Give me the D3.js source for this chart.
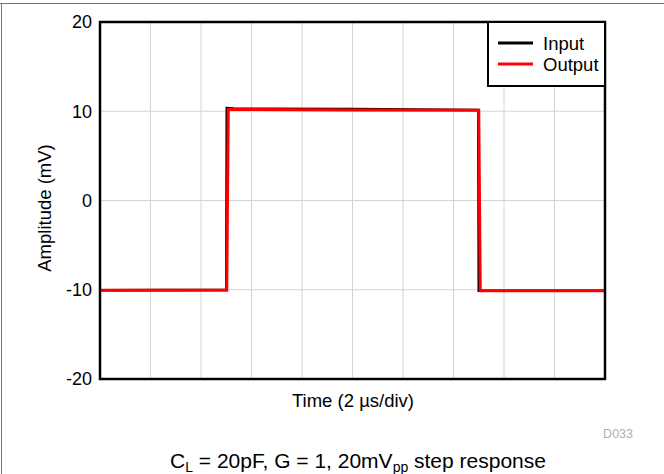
<!DOCTYPE html>
<html>
<head>
<meta charset="utf-8">
<script src="https://cdn.jsdelivr.net/npm/d3@7"></script>
<style>
  body { margin: 0; background: #fff; }
  svg { display: block; font-family: "Liberation Sans", Arial, sans-serif; }
</style>
</head>
<body>
<svg id="chart" width="664" height="474"></svg>
<script>
// time in microseconds (2 us/div, 10 div)
var inputTime  = [0, 5.0, 5.02, 5.3, 10, 14.98, 15.0, 20];
var inputVal   = [-10.05, -10.0, 10.35, 10.3, 10.25, 10.15, -10.1, -10.1];
var outputTime = [0, 5.02, 5.08, 5.3, 10, 15.0, 15.06, 15.3, 20];
var outputVal  = [-10.05, -10.05, 10.2, 10.2, 10.15, 10.1, -10.1, -10.1, -10.1];
var yTicks = [20, 10, 0, -10, -20];
var seriesNames = ['Input', 'Output'];
var seriesColors = ['#000000', '#ff0000'];

var svg = d3.select('#chart');
var margin = {left: 100, top: 22, right: 605, bottom: 379};

var x = d3.scaleLinear().domain([0, 20]).range([margin.left, margin.right]);
var y = d3.scaleLinear().domain([-20, 20]).range([margin.bottom, margin.top]);

// page border (top/left)
svg.append('line').attr('x1', 0).attr('x2', 664).attr('y1', 3.5).attr('y2', 3.5)
  .attr('stroke', '#777').attr('stroke-width', 1);
svg.append('line').attr('x1', 1.5).attr('x2', 1.5).attr('y1', 3).attr('y2', 474)
  .attr('stroke', '#777').attr('stroke-width', 1);

// grid
var grid = svg.append('g');
grid.selectAll('.vg').data(d3.range(2, 20, 2)).enter().append('line')
  .attr('x1', function(d){ return x(d); }).attr('x2', function(d){ return x(d); })
  .attr('y1', margin.top).attr('y2', margin.bottom)
  .attr('stroke', '#d4d4d4').attr('stroke-width', 1);
grid.selectAll('.hg').data(yTicks.slice(1, -1)).enter().append('line')
  .attr('x1', margin.left).attr('x2', margin.right)
  .attr('y1', function(d){ return y(d); }).attr('y2', function(d){ return y(d); })
  .attr('stroke', '#d4d4d4').attr('stroke-width', 1);

// y tick labels
var yAxis = d3.axisLeft(y).tickValues(yTicks).tickSize(0).tickPadding(8)
  .tickFormat(function(d){ return String(d); });
var ya = svg.append('g').attr('transform', 'translate(' + margin.left + ',0)').call(yAxis);
ya.select('.domain').remove();
ya.selectAll('text').attr('font-size', 18).attr('fill', '#000')
  .style('font-family', '"Liberation Sans", Arial, sans-serif');

// traces
var line = d3.line()
  .x(function(d){ return x(d[0]); })
  .y(function(d){ return y(d[1]); });
var inputData = inputTime.map(function(t, i){ return [t, inputVal[i]]; });
var outputData = outputTime.map(function(t, i){ return [t, outputVal[i]]; });
svg.append('path').datum(inputData).attr('d', line)
  .attr('fill', 'none').attr('stroke', seriesColors[0]).attr('stroke-width', 2.5);
svg.append('path').datum(outputData).attr('d', line)
  .attr('fill', 'none').attr('stroke', seriesColors[1]).attr('stroke-width', 3);

// frame
svg.append('rect').attr('x', margin.left).attr('y', margin.top)
  .attr('width', margin.right - margin.left).attr('height', margin.bottom - margin.top)
  .attr('fill', 'none').attr('stroke', '#000').attr('stroke-width', 2.5);

// legend
var lg = svg.append('g');
lg.append('rect').attr('x', 488).attr('y', 22).attr('width', 117).attr('height', 64)
  .attr('fill', '#fff').attr('stroke', '#000').attr('stroke-width', 2);
seriesNames.forEach(function(name, i){
  var ly = 43 + i * 21;
  lg.append('line').attr('x1', 498).attr('x2', 533).attr('y1', ly).attr('y2', ly)
    .attr('stroke', seriesColors[i]).attr('stroke-width', 3);
  lg.append('text').attr('x', 543).attr('y', ly + 7).attr('font-size', 18.5)
    .text(name);
});

// axis titles
svg.append('text').attr('x', 353).attr('y', 407).attr('text-anchor', 'middle')
  .attr('font-size', 18.5).text('Time (2 µs/div)');
svg.append('text').attr('transform', 'translate(51,208) rotate(-90)')
  .attr('text-anchor', 'middle').attr('font-size', 18.5).text('Amplitude (mV)');

// id
svg.append('text').attr('x', 633).attr('y', 438).attr('text-anchor', 'end')
  .attr('font-size', 12.5).attr('fill', '#b0b0b0').text('D033');

// caption
var cap = svg.append('text').attr('x', 358).attr('y', 468).attr('text-anchor', 'middle')
  .attr('font-size', 21);
cap.append('tspan').text('C');
cap.append('tspan').attr('font-size', 14).attr('dy', 4).text('L');
cap.append('tspan').attr('dy', -4).text(' = 20pF, G = 1, 20mV');
cap.append('tspan').attr('font-size', 14).attr('dy', 4).text('pp');
cap.append('tspan').attr('dy', -4).text(' step response');
</script>
</body>
</html>
